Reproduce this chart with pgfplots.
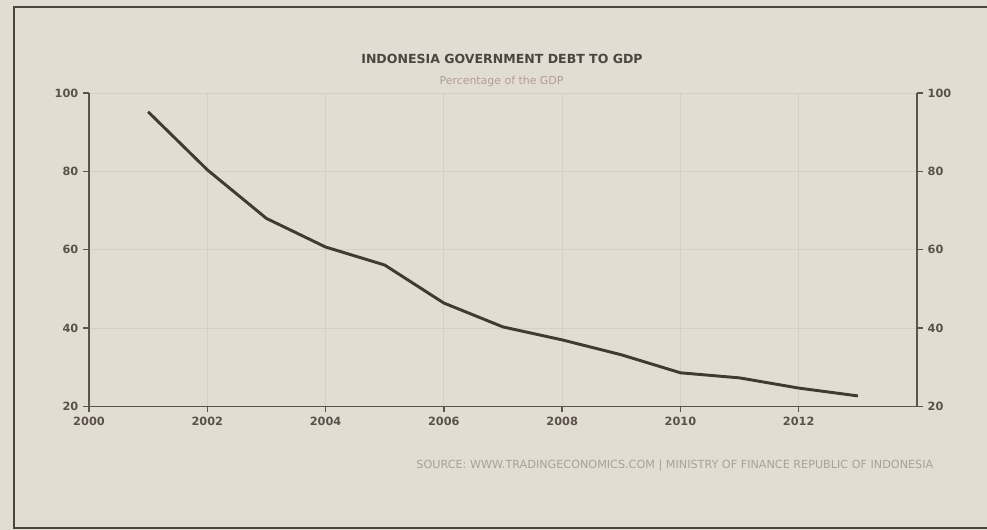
\documentclass[border=0pt]{standalone}
\usepackage{fontspec}
\setmainfont{DejaVu Sans}
\usepackage{pgfplots}
\pgfplotsset{compat=1.18}
\definecolor{paper}{HTML}{E2DDD3}
\definecolor{framec}{HTML}{4A4640}
\definecolor{axisc}{HTML}{5C5545}
\definecolor{linec}{HTML}{3F3B30}
\definecolor{gridc}{HTML}{D5CFC4}
\definecolor{labelc}{HTML}{5A524A}
\definecolor{titlec}{HTML}{4E4542}
\definecolor{subc}{HTML}{B49C98}
\definecolor{srcc}{HTML}{A8A198}

\pgfplotsset{
  debtaxis/.style={
    at={(0,0)}, anchor=south west,
    scale only axis, width=621pt, height=235.125pt,
    xmin=2000, xmax=2014, ymin=20, ymax=100,
    ytick={20,40,...,100},
    axis line style={axisc, line width=1.3pt, -},
    tick style={axisc, line width=1.1pt},
    tick align=outside, major tick length=4.5pt,
    ticklabel style={font=\bfseries\fontsize{8.5}{10}\selectfont, text=labelc},
    /pgf/number format/assume math mode=true,
    /pgf/number format/1000 sep={},
  }
}

\begin{document}
\begin{tikzpicture}[x=1pt,y=1pt]
\fill[paper] (-66.75,-92.625) rectangle (673.5,304.875);
\path[use as bounding box] (-66.75,-92.625) rectangle (673.5,304.875);
\draw[framec, line width=1.3pt] (680,299.5) -- (-56.25,299.5) -- (-56.25,-91.1) -- (680,-91.1);

\begin{axis}[debtaxis,
  axis x line*=bottom, axis y line*=left,
  xtick={2000,2002,...,2012},
  grid=major, major grid style={gridc, line width=0.6pt},
]
\addplot[linec, line width=2.2pt] coordinates {
  (2001,95.2) (2002,80.4) (2003,68.0) (2004,60.7) (2005,56.1)
  (2006,46.4) (2007,40.3) (2008,37.0) (2009,33.2) (2010,28.6)
  (2011,27.3) (2012,24.7) (2013,22.7)
};
\end{axis}

\begin{axis}[debtaxis,
  axis x line=none, axis y line*=right,
  yticklabel pos=right,
]
\end{axis}

\node[font=\bfseries\fontsize{9.4}{11}\selectfont, text=titlec] at (309.75,260.6) {INDONESIA GOVERNMENT DEBT TO GDP};
\node[font=\fontsize{8.2}{9}\selectfont, text=subc] at (309.4,243.4) {Percentage of the GDP};
\node[font=\fontsize{8.4}{9}\selectfont, text=srcc, anchor=east] at (636.75,-44.6) {SOURCE: WWW.TRADINGECONOMICS.COM \textbar\ MINISTRY OF FINANCE REPUBLIC OF INDONESIA};
\end{tikzpicture}
\end{document}
